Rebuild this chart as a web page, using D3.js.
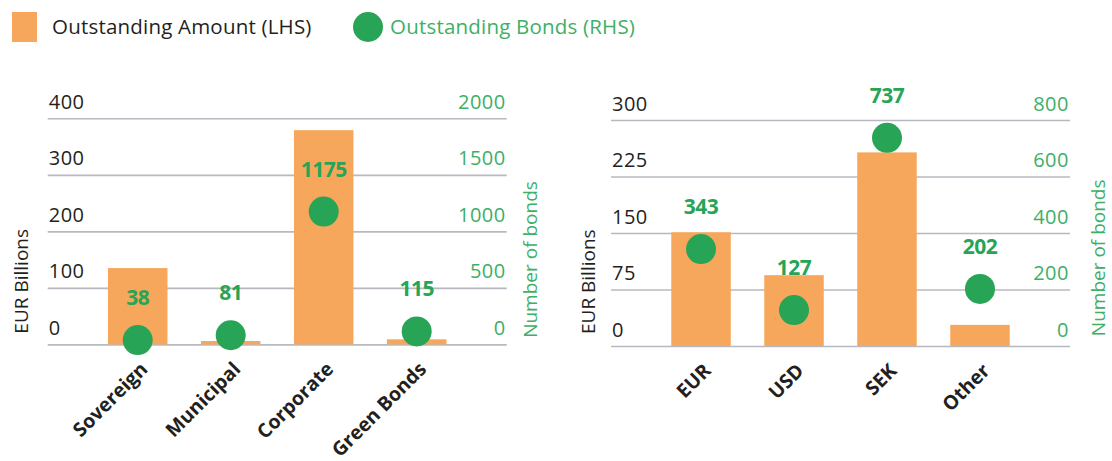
<!DOCTYPE html>
<html>
<head>
<meta charset="utf-8">
<script src="https://cdn.jsdelivr.net/npm/d3@7"></script>
<style>
  body { margin: 0; background: #fff; }
  svg { display: block; font-family: 'Open Sans', sans-serif; }
</style>
</head>
<body>
<div id="chart"></div>
<script>
// values
const sectorCats = ['Sovereign', 'Municipal', 'Corporate', 'Green Bonds'];
const sectorAmount = [135, 6, 379, 9];
const sectorBonds = [38, 81, 1175, 115];
const sectorAmountTicks = [0, 100, 200, 300, 400];
const sectorBondTicks = [0, 500, 1000, 1500, 2000];

const currencyCats = ['EUR', 'USD', 'SEK', 'Other'];
const currencyAmount = [151, 94, 257, 28];
const currencyBonds = [343, 127, 737, 202];
const currencyAmountTicks = [0, 75, 150, 225, 300];
const currencyBondTicks = [0, 200, 400, 600, 800];

const orange = '#f7a75b';
const green = '#27a456';
const lightGreen = '#3daf66';
const ink = '#231f20';
const gridColor = '#b8b8c0';

const svg = d3.select('#chart')
  .append('svg')
  .attr('width', 1112)
  .attr('height', 461);

// legend
const legend = svg.append('g')
  .attr('font-weight', 400)
  .attr('font-size', 20.5)
  .attr('letter-spacing', 0.2);
legend.append('rect')
  .attr('x', 12).attr('y', 12).attr('width', 25).attr('height', 30)
  .attr('fill', orange);
legend.append('text')
  .attr('x', 52).attr('y', 34)
  .attr('fill', ink)
  .text('Outstanding Amount (LHS)');
legend.append('circle')
  .attr('cx', 368).attr('cy', 27).attr('r', 15)
  .attr('fill', green);
legend.append('text')
  .attr('x', 390).attr('y', 34)
  .attr('fill', lightGreen)
  .text('Outstanding Bonds (RHS)');

function drawPanel(opts) {
  const { left, right, top, bottom } = opts;
  const w = right - left;
  const cats = opts.cats;

  const x = d3.scaleBand()
    .domain(cats)
    .range([left, right])
    .paddingInner(0.36)
    .paddingOuter(0.648);

  const yL = d3.scaleLinear().domain(d3.extent(opts.amountTicks)).range([bottom, top]);
  const yR = d3.scaleLinear().domain(d3.extent(opts.bondTicks)).range([bottom, top]);

  const g = svg.append('g');

  // gridlines + left labels
  const axL = g.append('g')
    .attr('transform', `translate(${left},0)`)
    .call(d3.axisLeft(yL).tickValues(opts.amountTicks).tickSize(-w).tickFormat(d3.format('d')));
  axL.select('.domain').remove();
  axL.selectAll('line').attr('stroke', gridColor).attr('stroke-width', 1.6);
  axL.selectAll('text')
    .attr('x', 1).attr('y', -10).attr('dy', 0)
    .attr('text-anchor', 'start')
    .attr('fill', ink)
    .attr('font-family', "'Open Sans', sans-serif")
    .attr('font-weight', 400)
    .attr('font-size', 20)
    .attr('letter-spacing', 0.5);

  // right labels
  const axR = g.append('g')
    .attr('transform', `translate(${right},0)`)
    .call(d3.axisRight(yR).tickValues(opts.bondTicks).tickSize(0).tickFormat(d3.format('d')));
  axR.select('.domain').remove();
  axR.selectAll('text')
    .attr('x', -1).attr('y', -10).attr('dy', 0)
    .attr('text-anchor', 'end')
    .attr('fill', lightGreen)
    .attr('font-family', "'Open Sans', sans-serif")
    .attr('font-weight', 400)
    .attr('font-size', 20)
    .attr('letter-spacing', 0.5);

  // bars
  g.selectAll('.bar')
    .data(cats)
    .enter()
    .append('rect')
    .attr('class', 'bar')
    .attr('x', d => x(d))
    .attr('width', x.bandwidth())
    .attr('y', (d, i) => yL(opts.amount[i]))
    .attr('height', (d, i) => yL(0) - yL(opts.amount[i]))
    .attr('fill', orange);

  // dots
  g.selectAll('.dot')
    .data(cats)
    .enter()
    .append('circle')
    .attr('class', 'dot')
    .attr('cx', d => x(d) + x.bandwidth() / 2)
    .attr('cy', (d, i) => yR(opts.bonds[i]))
    .attr('r', 15)
    .attr('fill', green);

  g.selectAll('.val')
    .data(cats)
    .enter()
    .append('text')
    .attr('class', 'val')
    .attr('x', d => x(d) + x.bandwidth() / 2)
    .attr('y', (d, i) => yR(opts.bonds[i]) - 35)
    .attr('text-anchor', 'middle')
    .attr('font-weight', 700)
    .attr('font-size', 21)
    .attr('letter-spacing', -0.5)
    .attr('fill', green)
    .text((d, i) => opts.bonds[i]);

  // category labels
  const axB = g.append('g')
    .attr('transform', `translate(0,${bottom})`)
    .call(d3.axisBottom(x).tickSize(0));
  axB.select('.domain').remove();
  axB.selectAll('text')
    .attr('x', 0).attr('y', 0).attr('dy', 0)
    .attr('transform', 'translate(11,26) rotate(-45)')
    .attr('text-anchor', 'end')
    .attr('fill', ink)
    .attr('font-family', "'Open Sans', sans-serif")
    .attr('font-weight', 700)
    .attr('font-size', 19.5);

  // axis titles
  g.append('text')
    .attr('transform', `translate(${opts.lTitleX},${opts.lTitleY}) rotate(-90)`)
    .attr('dy', '0.35em')
    .attr('text-anchor', 'middle')
    .attr('font-weight', 400)
    .attr('font-size', 19)
    .attr('fill', ink)
    .text('EUR Billions');

  g.append('text')
    .attr('transform', `translate(${opts.rTitleX},${opts.rTitleY}) rotate(-90)`)
    .attr('dy', '0.35em')
    .attr('text-anchor', 'middle')
    .attr('font-weight', 400)
    .attr('font-size', 19)
    .attr('fill', lightGreen)
    .text('Number of bonds');
}

drawPanel({
  cats: sectorCats, amount: sectorAmount, bonds: sectorBonds,
  amountTicks: sectorAmountTicks, bondTicks: sectorBondTicks,
  left: 47.7, right: 506.7, top: 118.3, bottom: 344.4,
  lTitleX: 21.7, lTitleY: 281.3, rTitleX: 530.7, rTitleY: 259.5
});

drawPanel({
  cats: currencyCats, amount: currencyAmount, bonds: currencyBonds,
  amountTicks: currencyAmountTicks, bondTicks: currencyBondTicks,
  left: 611, right: 1070, top: 120, bottom: 346,
  lTitleX: 588.3, lTitleY: 281.7, rTitleX: 1098, rTitleY: 257.8
});
</script>
</body>
</html>
